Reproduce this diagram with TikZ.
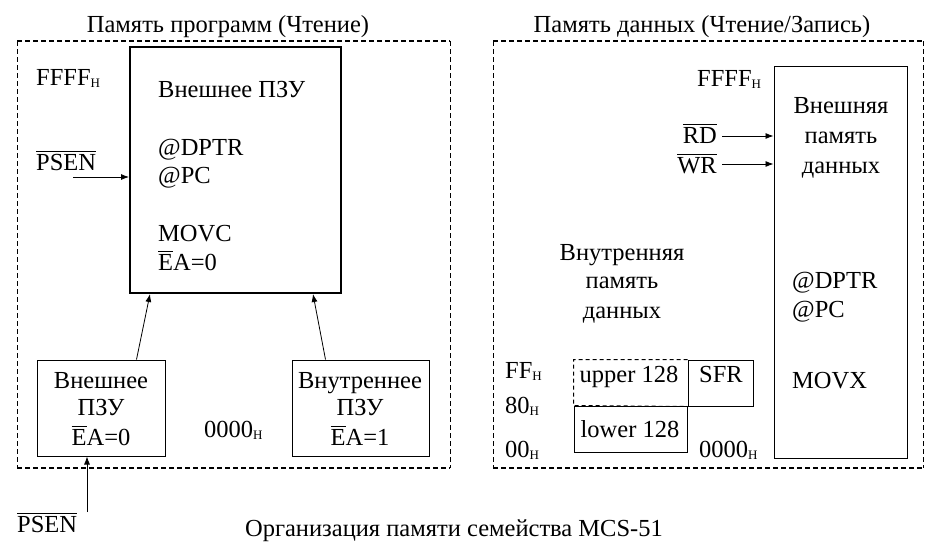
\documentclass[tikz,border=0pt]{standalone}
\usepackage{fontspec}
\setmainfont{Liberation Serif}
\usetikzlibrary{arrows.meta,calc}
\newcommand\hx{\raisebox{-2.5pt}{\fontsize{13}{13}\selectfont Н}}
\newcommand\ovl[1]{\setbox0\hbox{#1}\rlap{\rule[18pt]{\wd0}{0.9pt}}\box0}
\tikzset{
  lbl/.style={inner sep=0pt, font=\fontsize{24.5}{28}\selectfont},
  lb/.style={lbl, anchor=base},
  lw/.style={lbl, anchor=base west},
  le/.style={lbl, anchor=base east},
  arr/.style={-{Latex[length=8pt,width=6pt]}, line width=0.8pt},
  dh/.style={dash pattern=on 5pt off 3pt, line width=2pt},
  dv/.style={dash pattern=on 5pt off 3pt, line width=1pt},
  thinbox/.style={draw, line width=1pt, inner sep=0pt},
}
\begin{document}
\begin{tikzpicture}[x=1pt,y=-1pt]
\useasboundingbox (0,0) rectangle (937,549);
% frames
\coordinate (fa1) at (17,41); \coordinate (fa2) at (450,468);
\coordinate (fb1) at (493,41); \coordinate (fb2) at (923,468);
\draw[dh] (fa1) -- (fa1 -| fa2); \draw[dh] (fa2 -| fa1) -- (fa2);
\draw[dv] (fa1) -- (fa1 |- fa2); \draw[dv] (fa1 -| fa2) -- (fa2);
\draw[dh] (fb1) -- (fb1 -| fb2); \draw[dh] (fb2 -| fb1) -- (fb2);
\draw[dv] (fb1) -- (fb1 |- fb2); \draw[dv] (fb1 -| fb2) -- (fb2);
% titles
\node[lb] (t1) at (228,32) {Память программ (Чтение)};
\node[lb] (t2) at (702,32) {Память данных (Чтение/Запись)};
\node[lb] (cap) at (454,536) {Организация памяти семейства MCS-51};
% ---- program memory
\node[draw, line width=2pt, minimum width=211pt, minimum height=246pt, inner sep=0pt] (rom) at (235.5,170) {};
\node[lw] (r1) at (158,97) {Внешнее ПЗУ};
\node[lw] (r2) at (158,155) {@DPTR};
\node[lw] (r3) at (158,183) {@PC};
\node[lw] (r4) at (158,241) {MOVC};
\node[lw] (r5) at (158,270) {\ovl{E}A=0};
\node[lw] (ff1) at (36,85) {FFFF\hx};
\node[lw] (psen1) at (36,170) {\ovl{PSEN}};
\coordinate (psenT) at (73,177);
\draw[arr] (psenT) -- (psenT -| rom.west);
\node[thinbox, minimum width=128pt, minimum height=96pt] (extL) at (101,408) {};
\node[lb] (e1) at (101,388) {Внешнее};
\node[lb] (e2) at (101,415) {ПЗУ};
\node[lb] (e3) at (101,445) {\ovl{E}A=0};
\node[thinbox, minimum width=137pt, minimum height=96pt] (intL) at (360.5,408) {};
\node[lb] (i1) at (360,388) {Внутреннее};
\node[lb] (i2) at (360,415) {ПЗУ};
\node[lb] (i3) at (360,445) {\ovl{E}A=1};
\node[lw] (z1) at (204,437) {0000\hx};
\draw[arr] ([xshift=100pt]extL.north west) -- ([xshift=21pt]rom.south west);
\draw[arr] ([xshift=34pt]intL.north west) -- ([xshift=-29pt]rom.south east);
\node[lw] (psen2) at (17,532) {\ovl{PSEN}};
\coordinate (psenB) at (87,512);
\draw[arr] (psenB) -- (psenB |- extL.south);
% ---- data memory
\node[thinbox, minimum width=133pt, minimum height=392pt] (xram) at (840.5,262) {};
\node[lb] (x1) at (841,113) {Внешняя};
\node[lb] (x2) at (841,143) {память};
\node[lb] (x3) at (841,173) {данных};
\node[lw] (x4) at (792,288) {@DPTR};
\node[lw] (x5) at (792,317) {@PC};
\node[lw] (x6) at (792,388) {MOVX};
\node[lw] (ff2) at (697,86) {FFFF\hx};
\node[le] (rd) at (717,143) {\ovl{RD}};
\node[le] (wr) at (717,173) {\ovl{WR}};
\coordinate (rdS) at (722,136);
\coordinate (wrS) at (722,164);
\draw[arr] (rdS) -- (rdS -| xram.west);
\draw[arr] (wrS) -- (wrS -| xram.west);
\node[lb] (n1) at (622,260) {Внутренняя};
\node[lb] (n2) at (622,288) {память};
\node[lb] (n3) at (622,318) {данных};
\node[lw] (ffh) at (505,378) {FF\hx};
\node[lw] (h80) at (505,413) {80\hx};
\node[lw] (h00) at (505,457) {00\hx};
\node[thinbox, minimum width=113pt, minimum height=46pt] (low) at (630.5,429) {};
\node[thinbox, minimum width=65pt, minimum height=46pt] (sfr) at (720.5,383) {};
\draw[line width=1pt, dash pattern=on 4pt off 3pt] (sfr.north west) -| (low.north west) -- (sfr.south west);
\node[lb] (up) at (629,382) {upper 128};
\node[lb] (sf) at (721,382) {SFR};
\node[lb] (lo) at (630,437) {lower 128};
\node[lw] (z2) at (699,457) {0000\hx};
\end{tikzpicture}
\end{document}
